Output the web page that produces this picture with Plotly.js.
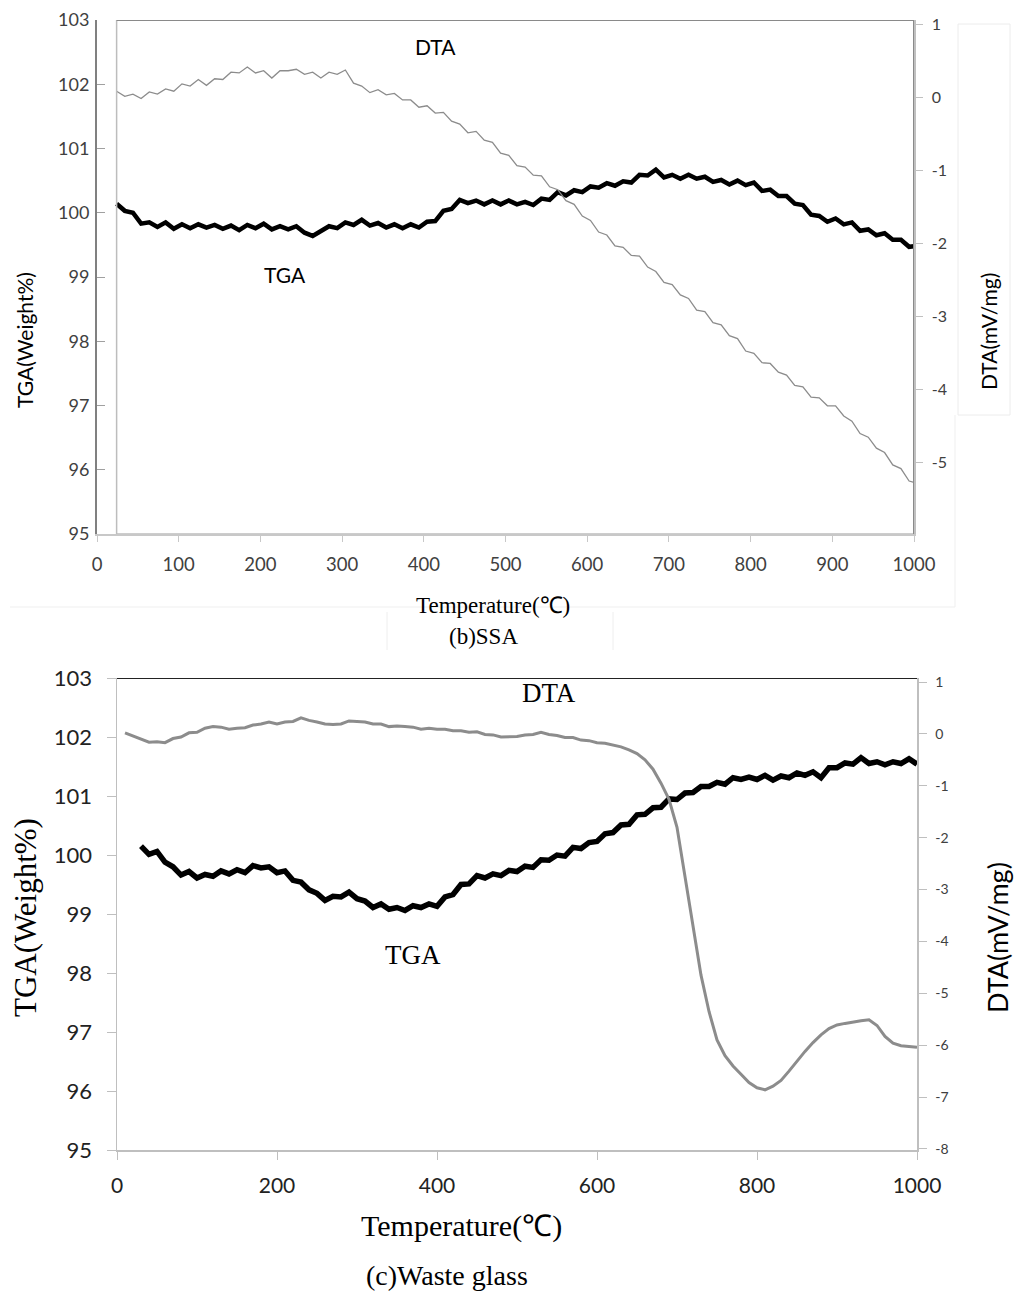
<!DOCTYPE html>
<html>
<head>
<meta charset="utf-8">
<script src="https://cdn.plot.ly/plotly-3.0.1.min.js"></script>
<style>
body{margin:0;background:#fff}
#chart{width:1024px;height:1308px}
</style>
</head>
<body>
<div id="chart"></div>
<script>
// (b) SSA - temperature in deg C, TGA in weight %, DTA in mV/mg
const tempSSA = [24,34,44,54,64,74,84,94,104,114,124,134,144,154,164,174,184,194,204,214,224,234,244,254,264,274,284,294,304,314,324,334,344,354,364,374,384,394,404,414,424,434,444,454,464,474,484,494,504,514,524,534,544,554,564,574,584,594,604,614,624,634,644,654,664,674,684,694,704,714,724,734,744,754,764,774,784,794,804,814,824,834,844,854,864,874,884,894,904,914,924,934,944,954,964,974,984,994,1000];
const tgaSSA = [100.14,100.03,100.00,99.83,99.85,99.78,99.85,99.75,99.82,99.76,99.82,99.77,99.81,99.75,99.80,99.73,99.81,99.76,99.83,99.74,99.79,99.74,99.79,99.69,99.64,99.71,99.79,99.76,99.85,99.81,99.89,99.80,99.84,99.77,99.82,99.76,99.82,99.77,99.86,99.87,100.03,100.06,100.20,100.15,100.19,100.13,100.19,100.13,100.19,100.13,100.17,100.12,100.22,100.20,100.32,100.27,100.35,100.32,100.41,100.39,100.46,100.42,100.49,100.47,100.59,100.58,100.67,100.55,100.59,100.53,100.59,100.53,100.56,100.48,100.51,100.44,100.50,100.43,100.47,100.34,100.36,100.26,100.26,100.14,100.12,99.97,99.95,99.86,99.91,99.82,99.85,99.72,99.74,99.65,99.68,99.58,99.58,99.47,99.48];
const dtaSSA = [0.08,0.01,0.04,-0.02,0.07,0.04,0.11,0.08,0.18,0.15,0.24,0.16,0.25,0.24,0.34,0.33,0.41,0.33,0.36,0.26,0.36,0.36,0.38,0.31,0.34,0.26,0.34,0.31,0.37,0.19,0.15,0.06,0.10,0.03,0.05,-0.04,-0.04,-0.14,-0.12,-0.22,-0.21,-0.33,-0.37,-0.49,-0.47,-0.59,-0.62,-0.77,-0.80,-0.94,-0.96,-1.07,-1.08,-1.23,-1.27,-1.42,-1.47,-1.63,-1.69,-1.85,-1.89,-2.04,-2.06,-2.17,-2.18,-2.33,-2.39,-2.54,-2.57,-2.71,-2.76,-2.92,-2.94,-3.09,-3.12,-3.27,-3.31,-3.48,-3.51,-3.64,-3.65,-3.77,-3.81,-3.95,-3.97,-4.11,-4.12,-4.23,-4.23,-4.37,-4.44,-4.61,-4.66,-4.81,-4.87,-5.04,-5.09,-5.26,-5.28];

// (c) Waste glass
const tempGlass = [10,20,30,40,50,60,70,80,90,100,110,120,130,140,150,160,170,180,190,200,210,220,230,240,250,260,270,280,290,300,310,320,330,340,350,360,370,380,390,400,410,420,430,440,450,460,470,480,490,500,510,520,530,540,550,560,570,580,590,600,610,620,630,640,650,660,670,680,690,700,710,720,730,740,750,760,770,780,790,800,810,820,830,840,850,860,870,880,890,900,910,920,930,940,950,960,970,980,990,1000];
const tgaGlass = [null,null,100.15,100.01,100.06,99.88,99.80,99.66,99.72,99.61,99.67,99.64,99.73,99.68,99.75,99.70,99.82,99.78,99.80,99.70,99.73,99.57,99.54,99.41,99.35,99.23,99.30,99.29,99.37,99.26,99.22,99.11,99.17,99.08,99.11,99.06,99.14,99.11,99.17,99.13,99.29,99.33,99.50,99.51,99.65,99.61,99.68,99.65,99.74,99.72,99.81,99.79,99.92,99.91,100.00,99.98,100.13,100.11,100.21,100.23,100.36,100.38,100.51,100.52,100.68,100.69,100.80,100.81,100.95,100.94,101.05,101.06,101.16,101.16,101.23,101.20,101.31,101.28,101.32,101.28,101.35,101.27,101.34,101.31,101.39,101.35,101.41,101.31,101.48,101.48,101.56,101.54,101.65,101.55,101.58,101.53,101.58,101.55,101.63,101.54];
const dtaGlass = [0.02,-0.04,-0.09,-0.16,-0.15,-0.17,-0.09,-0.06,0.02,0.03,0.11,0.14,0.13,0.09,0.11,0.12,0.17,0.19,0.23,0.19,0.23,0.24,0.31,0.26,0.23,0.19,0.18,0.19,0.25,0.24,0.23,0.19,0.19,0.14,0.15,0.14,0.13,0.09,0.11,0.09,0.09,0.06,0.06,0.03,0.04,-0.01,-0.02,-0.06,-0.05,-0.05,-0.02,-0.01,0.03,-0.01,-0.03,-0.07,-0.07,-0.12,-0.13,-0.17,-0.18,-0.22,-0.25,-0.31,-0.38,-0.50,-0.68,-0.95,-1.26,-1.80,-2.75,-3.75,-4.65,-5.35,-5.90,-6.20,-6.40,-6.56,-6.72,-6.82,-6.86,-6.79,-6.68,-6.50,-6.30,-6.12,-5.95,-5.80,-5.68,-5.61,-5.58,-5.55,-5.53,-5.51,-5.62,-5.83,-5.96,-6.01,-6.02,-6.04];

// tick labels for the DTA axes (plain hyphen minus like the original)
const dtaTicksSSA = [1,0,-1,-2,-3,-4,-5,-6];
const dtaLabelsSSA = ['1','0','-1','-2','-3','-4','-5','-6'];
const dtaTicksGlass = [1,0,-1,-2,-3,-4,-5,-6,-7,-8];
const dtaLabelsGlass = ['1','0','-1','-2','-3','-4','-5','-6','-7','-8'];

const sans = 'Lato, "Open Sans", sans-serif';
const serif = '"Liberation Serif", "Times New Roman", serif';

var traces = [
	{x: tempSSA, y: tgaSSA, xaxis: 'x', yaxis: 'y', mode: 'lines', line: {color: '#000', width: 4.5}},
	{x: tempSSA, y: dtaSSA, xaxis: 'x', yaxis: 'y2', mode: 'lines', line: {color: '#8c8c8c', width: 1.3}},
	{x: tempGlass, y: tgaGlass, xaxis: 'x2', yaxis: 'y3', mode: 'lines', line: {color: '#000', width: 5.5}},
	{x: tempGlass, y: dtaGlass, xaxis: 'x2', yaxis: 'y4', mode: 'lines', line: {color: '#8c8c8c', width: 3}}
];

function py(p){ return 1 - p/1308; }
function px(p){ return p/1024; }

// text placed by pixel centre
function label(text, x, y, font, size, angle){
	return {text: text, x: px(x), y: py(y), xref: 'paper', yref: 'paper', xanchor: 'center', yanchor: 'middle',
		showarrow: false, textangle: angle || 0, font: {family: font, size: size, color: '#000'}};
}

var layout = {
	width: 1024, height: 1308,
	margin: {l: 0, r: 0, t: 0, b: 0},
	paper_bgcolor: '#fff', plot_bgcolor: 'rgba(0,0,0,0)',
	showlegend: false,
	xaxis: {
		domain: [px(97), px(914)], range: [0, 1000], dtick: 100, anchor: 'y',
		showline: true, linecolor: '#c8c8c8', linewidth: 2,
		ticks: 'outside', ticklen: 6, tickcolor: '#c8c8c8', ticklabelstandoff: 7,
		tickfont: {family: sans, size: 18.5, color: '#404040'},
		showgrid: false, zeroline: false
	},
	yaxis: {
		domain: [py(534), py(20)], range: [95, 103], dtick: 1, anchor: 'x',
		showline: true, linecolor: '#808080', linewidth: 2,
		ticks: 'inside', ticklen: 8, tickcolor: '#a0a0a0', ticklabelstandoff: 2,
		tickfont: {family: sans, size: 18, color: '#404040'},
		showgrid: false, zeroline: false
	},
	yaxis2: {
		overlaying: 'y', side: 'right', anchor: 'x', range: [-5.986, 1.055],
		tickvals: dtaTicksSSA, ticktext: dtaLabelsSSA,
		showline: true, linecolor: '#c0c0c0', linewidth: 1.5,
		ticks: 'outside', ticklen: 7, tickcolor: '#c0c0c0', ticklabelstandoff: 6,
		tickfont: {family: sans, size: 16, color: '#404040'},
		showgrid: false, zeroline: false
	},
	xaxis2: {
		domain: [px(117), px(917)], range: [0, 1000], dtick: 200, anchor: 'y3',
		showline: true, linecolor: '#bfbfbf', linewidth: 2,
		ticks: 'outside', ticklen: 8, tickcolor: '#bfbfbf', ticklabelstandoff: 8,
		tickfont: {family: sans, size: 21, color: '#222'},
		showgrid: false, zeroline: false
	},
	yaxis3: {
		domain: [py(1150), py(678)], range: [95, 103], dtick: 1, anchor: 'x2',
		showline: true, linecolor: '#bfbfbf', linewidth: 1.5,
		ticks: 'outside', ticklen: 9, tickcolor: '#bfbfbf', ticklabelstandoff: 10,
		tickfont: {family: sans, size: 22, color: '#222'},
		showgrid: false, zeroline: false
	},
	yaxis4: {
		overlaying: 'y3', side: 'right', anchor: 'x2', range: [-8.02, 1.077],
		tickvals: dtaTicksGlass, ticktext: dtaLabelsGlass,
		showline: true, linecolor: '#bfbfbf', linewidth: 1.5,
		ticks: 'outside', ticklen: 8, tickcolor: '#bfbfbf', ticklabelstandoff: 6,
		tickfont: {family: sans, size: 14, color: '#404040'},
		showgrid: false, zeroline: false
	},
	shapes: [
		// plot frame of (b)
		{type: 'rect', xref: 'x', yref: 'y', x0: 24, x1: 1000, y0: 95, y1: 103, line: {color: '#bdbdbd', width: 1.5}},
		{type: 'line', xref: 'x', yref: 'y', x0: 24, x1: 1000, y0: 103, y1: 103, line: {color: '#8a8a8a', width: 2}},
		{type: 'line', xref: 'x', yref: 'y', x0: 1000, x1: 1000, y0: 95, y1: 103, line: {color: '#8a8a8a', width: 2}},
		// faint box remnants around the (b) titles
		{type: 'rect', xref: 'paper', yref: 'paper', x0: px(958), x1: px(1010), y0: py(415), y1: py(24), line: {color: '#ececec', width: 1}},
		{type: 'line', xref: 'paper', yref: 'paper', x0: px(955), x1: px(955), y0: py(607), y1: py(415), line: {color: '#efefef', width: 1}},
		{type: 'line', xref: 'paper', yref: 'paper', x0: px(10), x1: px(955), y0: py(607), y1: py(607), line: {color: '#efefef', width: 1}},
		{type: 'line', xref: 'paper', yref: 'paper', x0: px(387), x1: px(387), y0: py(650), y1: py(612), line: {color: '#eeeeee', width: 1}},
		{type: 'line', xref: 'paper', yref: 'paper', x0: px(613), x1: px(613), y0: py(650), y1: py(612), line: {color: '#eeeeee', width: 1}},
		// top border of (c)
		{type: 'line', xref: 'x2', yref: 'y3', x0: 0, x1: 1000, y0: 103, y1: 103, line: {color: '#222', width: 2}}
	],
	annotations: [
		label('DTA', 435, 46, sans, 21),
		label('TGA', 285, 274, sans, 21),
		label('TGA(Weight%)', 25, 340, sans, 21, -90),
		label('DTA(mV/mg)', 988, 332, sans, 21, -90),
		label('Temperature(℃)', 493, 605, serif, 23),
		label('(b)SSA', 483, 636, serif, 23),
		label('DTA', 549, 693, serif, 27),
		label('TGA', 413, 955, serif, 27),
		label('TGA(Weight%)', 25, 918, serif, 31, -90),
		label('DTA(mV/mg)', 997, 938, sans, 27, -90),
		label('Temperature(℃)', 461, 1226, serif, 30),
		label('(c)Waste glass', 447, 1275, serif, 28)
	]
};

Plotly.newPlot('chart', traces, layout, {staticPlot: true, displayModeBar: false});
</script>
</body>
</html>
